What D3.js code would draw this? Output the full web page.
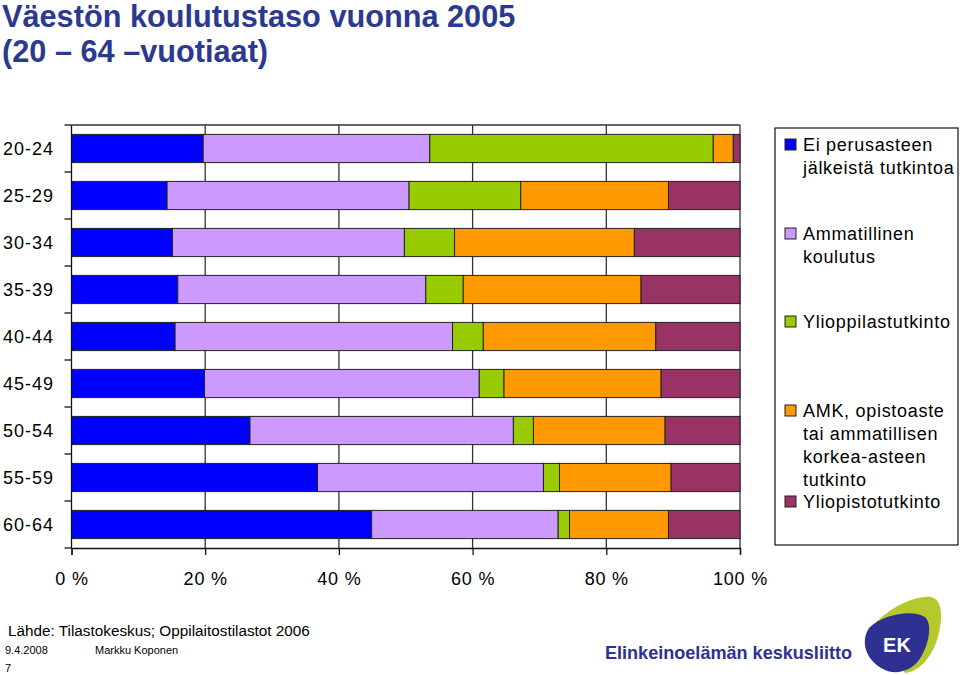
<!DOCTYPE html>
<html>
<head>
<meta charset="utf-8">
<script src="https://cdn.jsdelivr.net/npm/d3@7"></script>
<style>
  html, body { margin: 0; padding: 0; background: #fff; }
  svg { display: block; }
  text { font-family: "Liberation Sans", Arial, sans-serif; }
</style>
</head>
<body>
<svg id="chart" width="960" height="675"></svg>
<script>
const categories = ["20-24","25-29","30-34","35-39","40-44","45-49","50-54","55-59","60-64"];
const seriesNames = [
  ["Ei perusasteen", "jälkeistä tutkintoa"],
  ["Ammatillinen", "koulutus"],
  ["Ylioppilastutkinto"],
  ["AMK, opistoaste", "tai ammatillisen", "korkea-asteen", "tutkinto"],
  ["Yliopistotutkinto"]
];
const eiPerus   = [19.7, 14.3, 15.1, 15.9, 15.5, 19.9, 26.7, 36.8, 44.9];
const ammat     = [33.9, 36.2, 34.7, 37.1, 41.5, 41.1, 39.4, 33.8, 27.9];
const ylioppil  = [42.4, 16.7,  7.5,  5.6,  4.6,  3.7,  3.0,  2.4,  1.7];
const amk       = [ 3.0, 22.1, 26.9, 26.6, 25.8, 23.5, 19.7, 16.7, 14.8];
const yliopisto = [ 1.0, 10.7, 15.8, 14.8, 12.6, 11.8, 11.2, 10.3, 10.7];
const xTicks = [0, 20, 40, 60, 80, 100];
const xTickLabels = ["0 %", "20 %", "40 %", "60 %", "80 %", "100 %"];
const colors = ["#0000FF", "#CC99FF", "#99CC00", "#FF9900", "#993366"];

(function () {
const series = [eiPerus, ammat, ylioppil, amk, yliopisto];
const keys = ["s0","s1","s2","s3","s4"];
const rows = categories.map((c, i) => {
  const r = { cat: c };
  series.forEach((s, j) => r[keys[j]] = s[i]);
  return r;
});

const svg = d3.select("#chart");
const pL = 71.5, pR = 740, pT = 125, pB = 548;

const x = d3.scaleLinear().domain([0, 100]).range([pL, pR]);
const y = d3.scaleBand().domain(categories).range([pT, pB]).paddingInner(0.4).paddingOuter(0.2);

// Title
svg.append("text").attr("x", 2).attr("y", 27)
  .attr("font-size", 30.7).attr("font-weight", "bold").attr("fill", "#2B3990")
  .text("Väestön koulutustaso vuonna 2005");
svg.append("text").attr("x", 2).attr("y", 62)
  .attr("font-size", 30.7).attr("font-weight", "bold").attr("fill", "#2B3990")
  .text("(20 – 64 –vuotiaat)");

// Gridlines & plot frame
const g = svg.append("g");
g.selectAll("line.grid").data(xTicks.slice(1)).join("line")
  .attr("class", "grid")
  .attr("x1", d => x(d)).attr("x2", d => x(d))
  .attr("y1", pT).attr("y2", pB)
  .attr("stroke", "#333").attr("stroke-width", 1.3);
g.append("line").attr("x1", pL).attr("x2", pR).attr("y1", pT).attr("y2", pT)
  .attr("stroke", "#333").attr("stroke-width", 1.3);

// Bars
const stack = d3.stack().keys(keys)(rows);
g.selectAll("g.layer").data(stack).join("g")
  .attr("class", "layer")
  .attr("fill", (d, i) => colors[i])
  .selectAll("rect").data(d => d).join("rect")
  .attr("x", d => x(d[0]))
  .attr("width", d => x(d[1]) - x(d[0]))
  .attr("y", d => y(d.data.cat))
  .attr("height", y.bandwidth())
  .attr("stroke", "#222").attr("stroke-width", 1);

// Y axis
const yb = categories.map((c, i) => pT + i * (pB - pT) / categories.length).concat([pB]);
g.append("line").attr("x1", pL).attr("x2", pL).attr("y1", pT).attr("y2", pB)
  .attr("stroke", "#111").attr("stroke-width", 1.3);
g.selectAll("line.ytick").data(yb).join("line")
  .attr("class", "ytick")
  .attr("x1", pL - 7).attr("x2", pL).attr("y1", d => d).attr("y2", d => d)
  .attr("stroke", "#111").attr("stroke-width", 1.3);
g.selectAll("text.ylab").data(categories).join("text")
  .attr("class", "ylab")
  .attr("x", 3).attr("y", d => y(d) + y.bandwidth() / 2 + 6.5)
  .attr("font-size", 18).attr("letter-spacing", 1).attr("fill", "#000")
  .text(d => d);

// X axis
const xAxis = d3.axisBottom(x).tickValues(xTicks).tickSize(7)
  .tickFormat((d, i) => xTickLabels[i]);
const xg = svg.append("g").attr("transform", `translate(0,${pB})`).call(xAxis);
xg.select(".domain").attr("stroke", "#111").attr("stroke-width", 1.3);
xg.selectAll(".tick line").attr("stroke", "#111").attr("stroke-width", 1.3);
xg.selectAll(".tick text").attr("font-size", 18).attr("letter-spacing", 0.8)
  .attr("fill", "#000").attr("font-family", "Liberation Sans, Arial, sans-serif")
  .attr("dy", 0).attr("y", 37);

// Legend
svg.append("rect").attr("x", 775).attr("y", 128).attr("width", 183).attr("height", 417)
  .attr("fill", "#fff").attr("stroke", "#111").attr("stroke-width", 1.2);
const legBase = [[151, 174], [240, 263], [328], [417, 440, 463, 486], [508]];
seriesNames.forEach((lines, i) => {
  svg.append("rect").attr("x", 785).attr("y", legBase[i][0] - 12)
    .attr("width", 11).attr("height", 11)
    .attr("fill", colors[i]).attr("stroke", "#222").attr("stroke-width", 1);
  lines.forEach((t, k) => {
    svg.append("text").attr("x", 803).attr("y", legBase[i][k])
      .attr("font-size", 18).attr("letter-spacing", 0.7).attr("fill", "#000").text(t);
  });
});

// Footer
svg.append("text").attr("x", 8).attr("y", 636).attr("font-size", 15.3).attr("fill", "#000")
  .text("Lähde: Tilastokeskus; Oppilaitostilastot 2006");
svg.append("text").attr("x", 5).attr("y", 654).attr("font-size", 11).attr("fill", "#000").text("9.4.2008");
svg.append("text").attr("x", 95).attr("y", 654).attr("font-size", 11).attr("fill", "#000").text("Markku Koponen");
svg.append("text").attr("x", 5).attr("y", 672).attr("font-size", 11).attr("fill", "#000").text("7");

// Logo
svg.append("text").attr("x", 605).attr("y", 659).attr("font-size", 19)
  .attr("font-family", "Open Sans, sans-serif").attr("font-weight", 600).attr("fill", "#2E3192")
  .attr("textLength", 247).attr("lengthAdjust", "spacingAndGlyphs")
  .text("Elinkeinoelämän keskusliitto");
svg.append("path")
  .attr("d", "M876,622 C895,604 918,595 931,597 C944,600 943,622 936,643 C929,660 918,672 905,673 Z")
  .attr("fill", "#B5C92B");
svg.append("path")
  .attr("d", "M869,628 C882,614 914,609 925,617 C933,624 929,645 919,660 C910,672 894,676 881,668 C866,659 860,642 869,628 Z")
  .attr("fill", "#2E3192");
svg.append("text").attr("x", 897).attr("y", 652).attr("text-anchor", "middle")
  .attr("font-size", 20).attr("font-weight", "bold").attr("fill", "#fff")
  .attr("font-family", "DejaVu Sans, sans-serif").text("EK");
})();
</script>
</body>
</html>
